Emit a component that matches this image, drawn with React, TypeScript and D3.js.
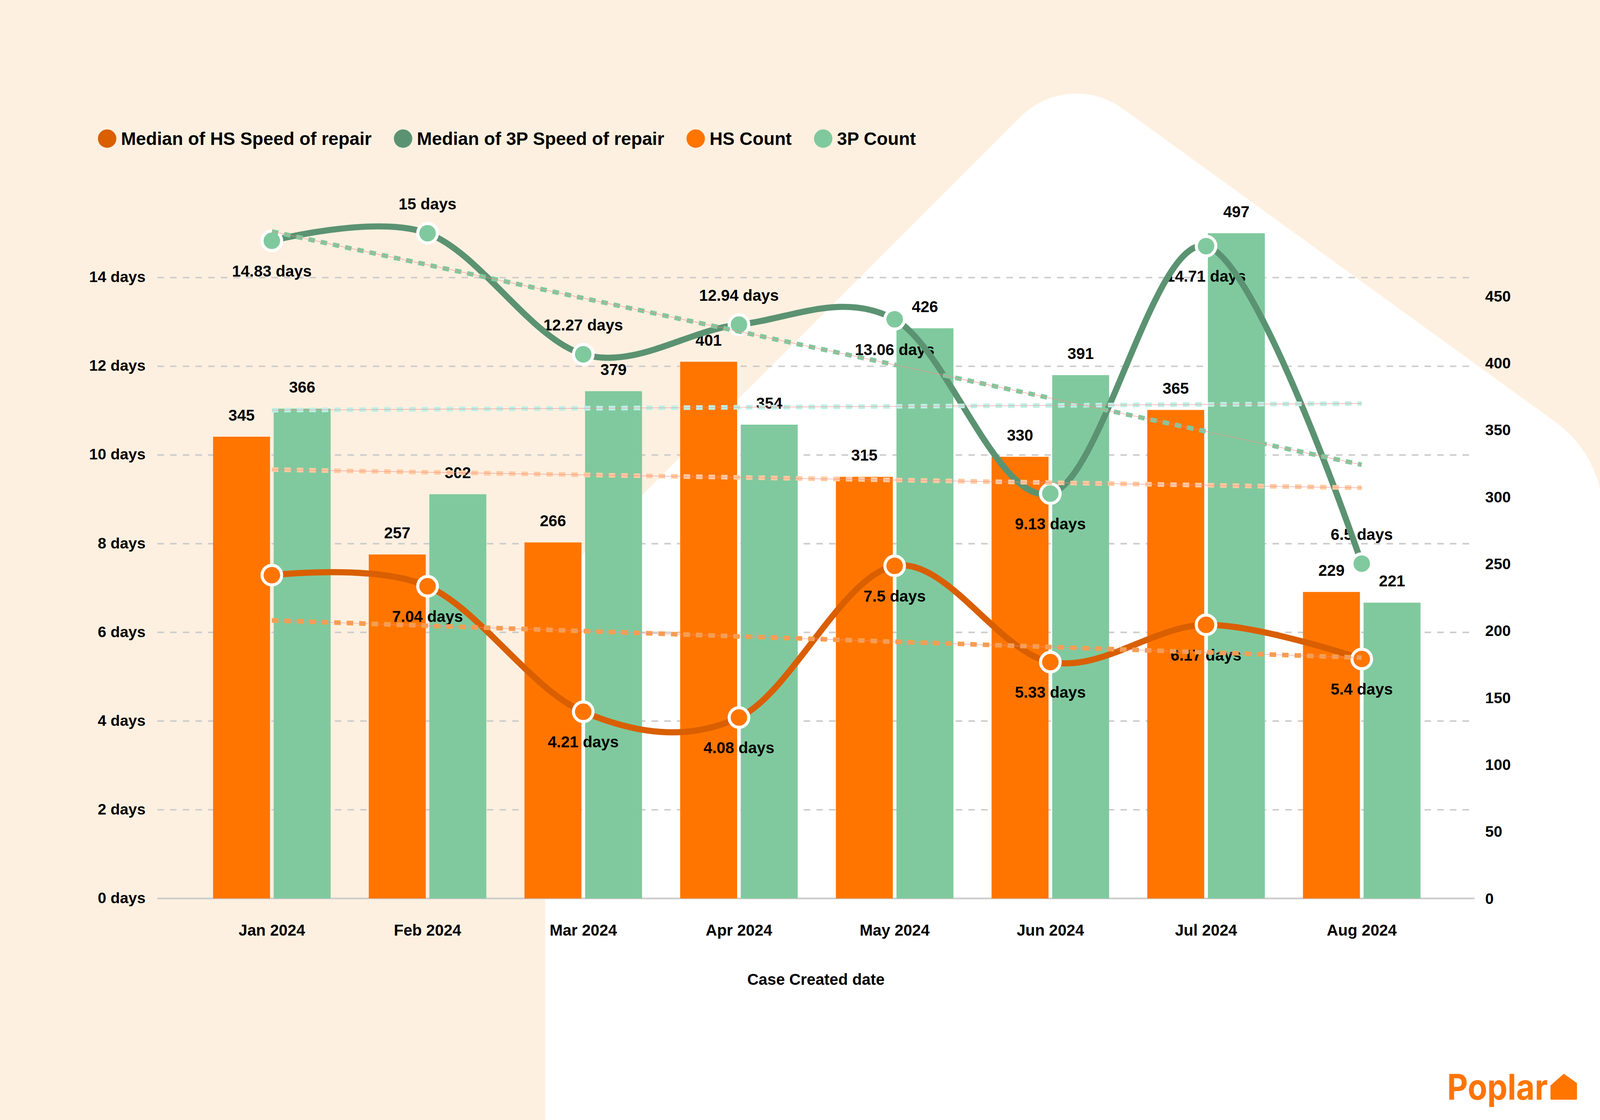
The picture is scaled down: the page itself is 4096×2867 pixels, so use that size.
import React, { useRef, useEffect } from "react";
import * as d3 from "d3";

// categories
const months = [
  "Jan 2024",
  "Feb 2024",
  "Mar 2024",
  "Apr 2024",
  "May 2024",
  "Jun 2024",
  "Jul 2024",
  "Aug 2024",
];

// bar series (right axis)
const hsCount = [345, 257, 266, 401, 315, 330, 365, 229];
const tpCount = [366, 302, 379, 354, 426, 391, 497, 221];

// line series (left axis, days)
const hsSpeed = [7.29, 7.04, 4.21, 4.08, 7.5, 5.33, 6.17, 5.4];
const tpSpeed = [14.83, 15, 12.27, 12.94, 13.06, 9.13, 14.71, 7.55];

// data labels as printed on the chart
const hsSpeedLabels = ["", "7.04 days", "4.21 days", "4.08 days", "7.5 days", "5.33 days", "6.17 days", "5.4 days"];
const tpSpeedLabels = ["14.83 days", "15 days", "12.27 days", "12.94 days", "13.06 days", "9.13 days", "14.71 days", "6.5 days"];

// trend lines: value at first and last month
const trendHSSpeed = [6.27, 5.43];
const trendTPSpeed = [15.04, 9.78];
const trendHSCount = [320.4, 306.8];
const trendTPCount = [364.8, 369.8];

// ticks
const dayTicks = [0, 2, 4, 6, 8, 10, 12, 14];
const countTicks = [0, 50, 100, 150, 200, 250, 300, 350, 400, 450];

const legendLabels = [
  "Median of HS Speed of repair",
  "Median of 3P Speed of repair",
  "HS Count",
  "3P Count",
];

// where the speed labels sit relative to their point
const hsLabelSide = ["none", "below", "below", "below", "below", "below", "below", "below"];
const tpLabelSide = ["below", "above", "above", "above", "below", "below", "below", "above"];

const FONT = "'Liberation Sans', Arial, Helvetica, sans-serif";
const CREAM = "#FEF0E0";
const ORANGE = "#FF7500";
const DARK_ORANGE = "#D95F00";
const GREEN = "#80C99E";
const DARK_GREEN = "#5B9372";

const App = () => {
  const chartRef = useRef<SVGSVGElement | null>(null);

  useEffect(() => {
    if (!chartRef.current) return;
    const svg = d3.select(chartRef.current);
    svg.selectAll("*").remove();

    const W = 4167;
    const H = 2917;
    const plotLeft = 410;
    const plotRight = 3840;
    const baseY = 2340;
    const topY = 607.5;

    // background + house shape
    svg.append("rect").attr("width", W).attr("height", H).attr("fill", CREAM);
    const house = d3.path();
    house.moveTo(1420, 3000);
    house.arcTo(1420, 1542, 2782, 180, 80);
    house.arcTo(2782, 180, 4175, 1189, 206);
    house.arcTo(4175, 1189, 4175, 3000, 300);
    house.lineTo(4175, 3000);
    house.closePath();
    svg.append("path").attr("d", house.toString()).attr("fill", "#FFFFFF");

    // scales
    const x = d3
      .scaleBand()
      .domain(months)
      .range([505.25, 3749.25])
      .paddingInner(0.245)
      .paddingOuter(0.1225);
    const xSub = d3
      .scaleBand()
      .domain(["hs", "tp"])
      .range([0, x.bandwidth()])
      .paddingInner(0.06);
    const yDays = d3
      .scaleLinear()
      .domain([0, d3.max(tpSpeed.concat(hsSpeed)) as number])
      .range([baseY, topY]);
    const yCount = d3
      .scaleLinear()
      .domain([0, d3.max(tpCount.concat(hsCount)) as number])
      .range([baseY, topY]);
    const cx = (m: string) => (x(m) || 0) + x.bandwidth() / 2;

    // grid lines
    const grid = svg.append("g");
    grid
      .selectAll("line")
      .data(dayTicks.filter((d) => d > 0))
      .enter()
      .append("line")
      .attr("x1", plotLeft)
      .attr("x2", plotRight)
      .attr("y1", (d) => yDays(d))
      .attr("y2", (d) => yDays(d))
      .attr("stroke", "#CCCCCC")
      .attr("stroke-width", 4)
      .attr("stroke-dasharray", "17 16");
    grid
      .append("line")
      .attr("x1", plotLeft)
      .attr("x2", plotRight)
      .attr("y1", yDays(0))
      .attr("y2", yDays(0))
      .attr("stroke", "#CCCCCC")
      .attr("stroke-width", 4.5);

    // bars
    const bars = svg.append("g");
    const barSeries = [
      { key: "hs", values: hsCount, color: ORANGE },
      { key: "tp", values: tpCount, color: GREEN },
    ];
    barSeries.forEach((s) => {
      bars
        .selectAll(`.bar-${s.key}`)
        .data(s.values)
        .enter()
        .append("rect")
        .attr("class", `bar-${s.key}`)
        .attr("x", (_, i) => (x(months[i]) || 0) + (xSub(s.key) || 0))
        .attr("y", (d) => yCount(d))
        .attr("width", xSub.bandwidth())
        .attr("height", (d) => baseY - yCount(d))
        .attr("fill", s.color);
    });

    const textStyle = (sel: any, size: number) =>
      sel
        .attr("font-family", FONT)
        .attr("font-weight", "bold")
        .attr("font-size", size)
        .attr("fill", "#000");

    // bar value labels
    barSeries.forEach((s) => {
      svg
        .append("g")
        .selectAll("text")
        .data(s.values)
        .enter()
        .append("text")
        .attr("x", (_, i) => (x(months[i]) || 0) + (xSub(s.key) || 0) + xSub.bandwidth() / 2)
        .attr("y", (d) => yCount(d) - 42)
        .attr("text-anchor", "middle")
        .call(textStyle, 41)
        .text((d) => String(d));
    });

    // line value labels
    const lineSeries = [
      { values: hsSpeed, labels: hsSpeedLabels, sides: hsLabelSide, line: DARK_ORANGE, marker: ORANGE },
      { values: tpSpeed, labels: tpSpeedLabels, sides: tpLabelSide, line: DARK_GREEN, marker: GREEN },
    ];
    lineSeries.forEach((s) => {
      const pts = s.values
        .map((v, i) => ({ month: months[i], v, label: s.labels[i], side: s.sides[i] }))
        .filter((p) => p.side !== "none");
      svg
        .append("g")
        .selectAll("text")
        .data(pts)
        .enter()
        .append("text")
        .attr("x", (p) => cx(p.month))
        .attr("y", (p) => yDays(p.v) + (p.side === "above" ? -62 : 93))
        .attr("text-anchor", "middle")
        .call(textStyle, 41)
        .text((p) => p.label);
    });

    // smooth lines + markers
    const line = d3
      .line<number>()
      .x((_, i) => cx(months[i]))
      .y((d) => yDays(d))
      .curve(d3.curveCardinal.tension(0));
    lineSeries.forEach((s) => {
      svg
        .append("path")
        .attr("d", line(s.values))
        .attr("fill", "none")
        .attr("stroke", s.line)
        .attr("stroke-width", 16)
        .attr("stroke-linecap", "round");
    });
    lineSeries.forEach((s) => {
      svg
        .append("g")
        .selectAll("circle")
        .data(s.values)
        .enter()
        .append("circle")
        .attr("cx", (_, i) => cx(months[i]))
        .attr("cy", (d) => yDays(d))
        .attr("r", 25.5)
        .attr("fill", s.marker)
        .attr("stroke", "#FFFFFF")
        .attr("stroke-width", 8);
    });

    // trend lines
    const first = cx(months[0]);
    const last = cx(months[months.length - 1]);
    const trends = [
      { v: trendHSCount, scale: yCount, color: "#FFCBA0" },
      { v: trendTPCount, scale: yCount, color: "#BDF0E6" },
      { v: trendHSSpeed, scale: yDays, color: "#F5A04E" },
      { v: trendTPSpeed, scale: yDays, color: GREEN },
    ];
    trends.forEach((t) => {
      const g = svg.append("g");
      g.append("line")
        .attr("x1", first)
        .attr("x2", last)
        .attr("y1", t.scale(t.v[0]))
        .attr("y2", t.scale(t.v[1]))
        .attr("stroke", t.color)
        .attr("stroke-width", 12)
        .attr("stroke-dasharray", "17 15.5");
      g.append("line")
        .attr("x1", first)
        .attr("x2", last)
        .attr("y1", t.scale(t.v[0]))
        .attr("y2", t.scale(t.v[1]))
        .attr("stroke", "#F28C8C")
        .attr("stroke-opacity", 0.75)
        .attr("stroke-width", 1.5);
    });

    // left axis labels
    svg
      .append("g")
      .selectAll("text")
      .data(dayTicks)
      .enter()
      .append("text")
      .attr("x", 379)
      .attr("y", (d) => yDays(d) + 12)
      .attr("text-anchor", "end")
      .call(textStyle, 40)
      .text((d) => `${d} days`);

    // right axis labels
    svg
      .append("g")
      .selectAll("text")
      .data(countTicks)
      .enter()
      .append("text")
      .attr("x", 3868)
      .attr("y", (d) => yCount(d) + 14)
      .attr("text-anchor", "start")
      .call(textStyle, 40)
      .text((d) => String(d));

    // category labels
    svg
      .append("g")
      .selectAll("text")
      .data(months)
      .enter()
      .append("text")
      .attr("x", (d) => cx(d))
      .attr("y", 2437)
      .attr("text-anchor", "middle")
      .call(textStyle, 41)
      .text((d) => d);

    svg
      .append("text")
      .attr("x", (plotLeft + plotRight) / 2)
      .attr("y", 2565)
      .attr("text-anchor", "middle")
      .call(textStyle, 41)
      .text("Case Created date");

    // legend
    const legendColors = [DARK_ORANGE, DARK_GREEN, ORANGE, GREEN];
    const legend = svg.append("g");
    let lx = 279;
    legendLabels.forEach((label, i) => {
      legend
        .append("circle")
        .attr("cx", lx)
        .attr("cy", 361)
        .attr("r", 24)
        .attr("fill", legendColors[i]);
      const t = legend
        .append("text")
        .attr("x", lx + 36)
        .attr("y", 377)
        .call(textStyle, 47)
        .text(label);
      const w = (t.node() as SVGTextElement).getComputedTextLength();
      lx = lx + 36 + w + 82;
    });

    // logo
    const logo = svg.append("g");
    logo
      .append("text")
      .attr("x", 3769)
      .attr("y", 2864)
      .attr("font-family", "Inter, 'Noto Sans', sans-serif")
      .attr("font-weight", 700)
      .attr("font-size", 92)
      .attr("textLength", 262)
      .attr("lengthAdjust", "spacingAndGlyphs")
      .attr("fill", ORANGE)
      .text("Poplar");
    logo
      .append("path")
      .attr("d", "M4040,2862 L4040,2828 L4073,2799 L4105,2822 L4105,2862 Z")
      .attr("fill", ORANGE)
      .attr("stroke", ORANGE)
      .attr("stroke-width", 4)
      .attr("stroke-linejoin", "round");
  }, []);

  return (
    <svg
      ref={chartRef}
      width={4096}
      height={2867}
      viewBox="0 0 4167 2917"
      preserveAspectRatio="none"
      style={{ position: "absolute", left: 0, top: 0, display: "block" }}
    />
  );
};

export default App;
